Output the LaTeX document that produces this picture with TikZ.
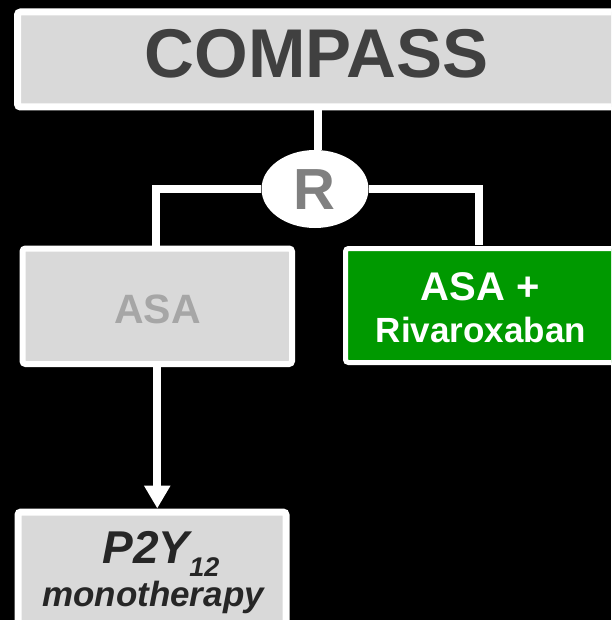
\documentclass[tikz,border=0pt]{standalone}
\usepackage{fontspec}
\setmainfont{Liberation Sans}
\usetikzlibrary{shapes.geometric,arrows.meta}
\definecolor{boxgray}{HTML}{D9D9D9}
\definecolor{titlegray}{HTML}{404040}
\definecolor{rgray}{HTML}{808080}
\definecolor{asagray}{HTML}{A6A6A6}
\definecolor{darktext}{HTML}{262626}
\definecolor{rivagreen}{HTML}{009900}
\tikzset{
  graybox/.style={draw=white, fill=boxgray, rectangle, rounded corners=3pt, inner sep=0pt},
  greenbox/.style={draw=white, fill=rivagreen, rectangle, rounded corners=3pt, inner sep=0pt, line width=5pt},
  conn/.style={draw=white, line width=8pt},
  txt/.style={anchor=base, inner sep=0pt, font=\bfseries},
}
\newcommand{\fs}[1]{\fontsize{#1}{#1}\selectfont}
\begin{document}
\begin{tikzpicture}[x=1pt,y=-1pt]
\useasboundingbox (0,0) rectangle (611,620);
\clip (0,0) rectangle (611,620);
\fill[black] (0,0) rectangle (611,620);
% boxes
\node[graybox, line width=7pt, minimum width=598pt, minimum height=95pt] (top) at (316.5,59.5) {};
\node[ellipse, fill=white, minimum width=107pt, minimum height=78pt, inner sep=0pt] (R) at (315,189) {};
\node[graybox, line width=6pt, minimum width=269.5pt, minimum height=115.5pt] (asa) at (157.25,306.25) {};
\node[greenbox, minimum width=269pt, minimum height=114pt] (riva) at (480,305.5) {};
\node[graybox, line width=7pt, minimum width=268pt, minimum height=140pt] (p2y) at (152,582) {};
% connectors
\coordinate (rj) at (479,245);
\draw[conn] (R.north -| 318,0) -- (318,107);
\draw[conn] (R.west) -| (asa.north -| 155.5,0);
\draw[conn] (R.east) -| (rj);
\draw[conn, -{Triangle[width=25pt,length=23pt]}] (asa.south) -- (asa.south |- p2y.north);
% texts
\node[txt, text=titlegray, font=\bfseries\fs{69}] (ttop) at (316.5,77.5) {COMPASS};
\node[txt, text=rgray, font=\bfseries\fs{58}] (tR) at (314,210) {R};
\node[txt, text=asagray, font=\bfseries\fs{41}] (tasa) at (157.5,323) {ASA};
\node[txt, text=white, font=\bfseries\fs{40}] (triva1) at (480,300) {ASA +};
\node[txt, text=white, font=\bfseries\fs{35}] (triva2) at (481,342) {Rivaroxaban};
\node[txt, text=darktext, font=\bfseries\itshape\fs{46}] (tp2y) at (161,563) {P2Y\raisebox{-13pt}{\fs{27}12}};
\node[txt, text=darktext, font=\bfseries\itshape\fs{35}] (tmono) at (153,606) {monotherapy};
\end{tikzpicture}
\end{document}
